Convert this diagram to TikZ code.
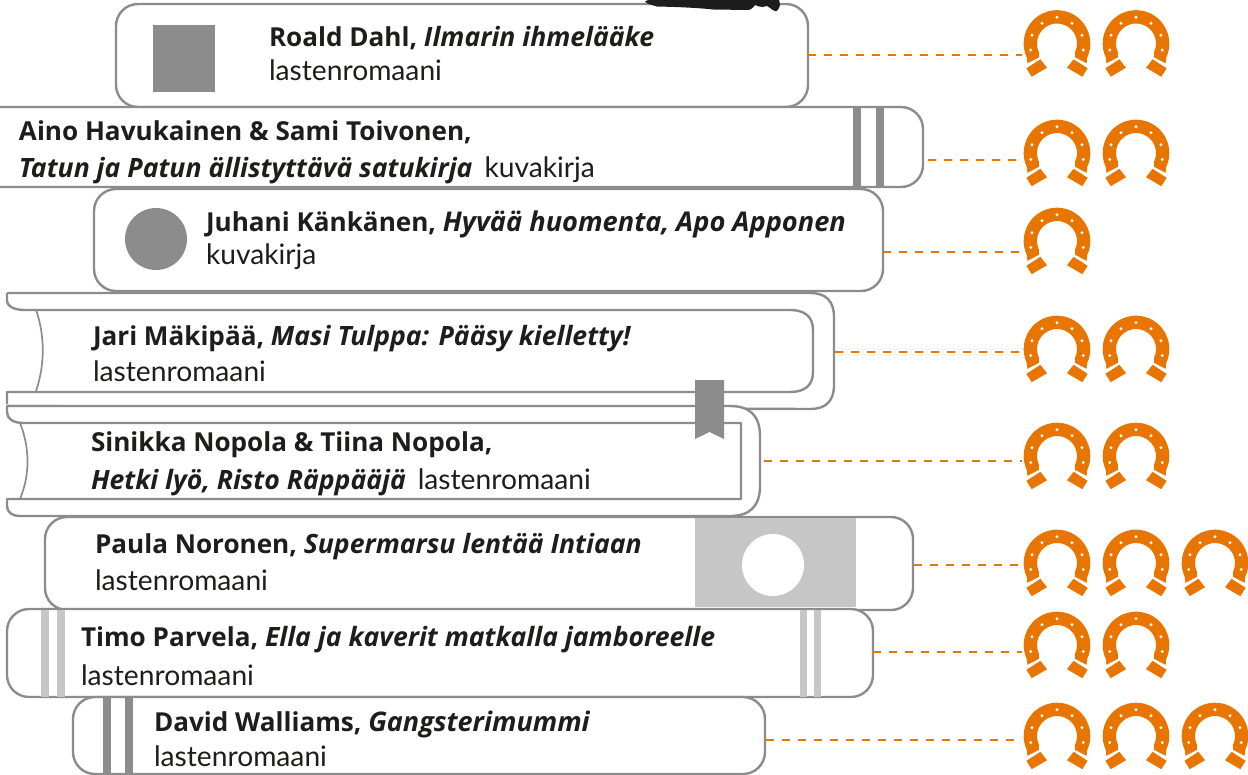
\documentclass[tikz,border=0pt]{standalone}
\usepackage{fontspec}
\setmainfont{Lato}
\newfontfamily\hvy{Open Sans}
\definecolor{bk}{HTML}{8C8C8C}
\definecolor{lbk}{HTML}{C6C6C6}
\definecolor{org}{HTML}{E87500}
\definecolor{ink}{HTML}{1D1D1B}
\newcommand{\fs}{\fontsize{28.2}{30}\selectfont}
\newcommand{\bt}[1]{{\hvy\fontsize{26.1}{30}\selectfont\bfseries #1}}
\newcommand{\bi}[2][26.6]{{\hvy\fontsize{#1}{30}\selectfont\bfseries\itshape #2}}
\tikzset{
  book/.style={draw=bk,line width=2.4pt,line join=round,rounded corners=22pt,fill=white},
  thin book/.style={draw=bk,line width=1.7pt,line join=round},
  lab/.style={anchor=base west,inner sep=0pt,outer sep=0pt,font=\fs,text=ink},
  dash link/.style={draw=org,line width=1.6pt,dash pattern=on 8pt off 8pt},
  shoe/.pic={
    \begin{scope}[x=1pt,y=1pt]
      \fill[org] (-29.6pt,-19.8pt) -- (205:33.3pt) arc[start angle=205,end angle=-25,radius=33.3pt]
        -- (29.6pt,-19.8pt) -- (18pt,-13.8pt) -- (-25:20pt)
        arc[start angle=-25,end angle=205,radius=20pt] -- (-18pt,-13.8pt) -- cycle;
      \fill[org] (-30.6pt,-24.8pt) -- (-16.6pt,-15.8pt) -- (-10pt,-24.2pt) -- (-25.3pt,-33.2pt) -- cycle;
      \fill[org] (30.6pt,-24.8pt) -- (16.6pt,-15.8pt) -- (10pt,-24.2pt) -- (25.3pt,-33.2pt) -- cycle;
      \foreach \px/\py in {-26.3/-6.5,-25/8.2,-15/20.2,0/26.2,15/20.2,25/8.2,26.3/-6.5}
        \fill[white] (\px pt,\py pt) circle[radius=1.6pt];
    \end{scope}
  }
}
\begin{document}
\begin{tikzpicture}[x=1pt,y=-1pt]
\useasboundingbox (0,0) rectangle (1248,774);
\clip (0,0) rectangle (1248,774);
% book 1
\draw[book] (116,4) rectangle (808,107);
\fill[bk] (153,25) rectangle (215,92);
\fill[ink] (645,1.5) -- (650,-1) -- (779,-1) -- (780,5) .. controls (779,9) and (777,12) .. (775,11) .. controls (772,10) and (769,7) .. (767,6) .. controls (764,7) and (762,7) .. (760,6.7) -- (755,5) .. controls (753,8) and (750,10) .. (748,10) -- (713,9.5) .. controls (700,8) and (680,7) .. (657,6.5) .. controls (652,5) and (647,4) .. (645,1.5) -- cycle;
% book 2
\draw[book] (-30,107) -- (923,107) -- (923,187) -- (-30,187);
\fill[bk] (853,107) rectangle (861,187);
\fill[bk] (876,107) rectangle (884,187);
% book 3
\draw[book] (94,189) rectangle (883,291);
\fill[bk] (156,239) circle[radius=31];
% book 4
\draw[book,rounded corners=0pt] (7,293) -- (810,293) .. controls (826,293) and (834,301) .. (834,317)
   -- (834,385) .. controls (834,401) and (826,409) .. (810,409) -- (7,406);
\draw[book,fill=none,rounded corners=0pt] (7,293) -- (7,300) .. controls (7,307) and (15,310) .. (25,310)
   -- (790,310) .. controls (804,310) and (813,316) .. (813,330) -- (813,372) .. controls (813,386) and (804,392) .. (790,392) -- (7,392) -- (7,404);
\draw[thin book] (36,310) .. controls (45,335) and (45,365) .. (36,391);
% book 5
\draw[book,rounded corners=0pt] (7,406) -- (730,406) .. controls (750,406) and (760,416) .. (760,436)
   -- (760,486) .. controls (760,506) and (750,516) .. (730,516) -- (20,516) .. controls (12,516) and (7,512) .. (7,506) -- (7,499) -- (741,499) -- (741,423) -- (24,423)
   .. controls (13,423) and (7,419) .. (7,412) -- cycle;
\draw[thin book] (20,423) .. controls (30,448) and (30,475) .. (20,499);
\draw[bk,line width=2.4pt] (7,499) -- (741,499);
\fill[bk] (695,380) -- (724,380) -- (724,439) -- (709.5,432) -- (695,439) -- cycle;
% book 6
\draw[book] (45,517) rectangle (913,610);
\fill[lbk] (695,518) rectangle (856,607);
\fill[white] (773,565) circle[radius=31];
% book 7
\draw[book] (7,609) rectangle (873,697);
\fill[lbk] (41,610) rectangle (49,697);
\fill[lbk] (57,610) rectangle (65,697);
\fill[lbk] (800,610) rectangle (807,697);
\fill[lbk] (814,610) rectangle (821,697);
% book 8
\draw[book] (73,697) rectangle (765,774);
\fill[bk] (103,698) rectangle (111,774);
\fill[bk] (125,698) rectangle (133,774);
% labels
\node[lab] (t1a) at (269,46) {\bt{Roald Dahl, }\bi{Ilmarin ihmelääke}};
\node[lab] (t1b) at (269,80) {lastenromaani};
\node[lab] (t2a) at (19,140) {\bt{Aino Havukainen \& Sami Toivonen,}};
\node[lab] (t2b) at (19,177) {\bi{Tatun ja Patun ällistyttävä satukirja}\ \,kuvakirja};
\node[lab] (t3a) at (206,231) {\bt{Juhani Känkänen, }\bi[27.2]{Hyvää huomenta, Apo Apponen}};
\node[lab] (t3b) at (206,264) {kuvakirja};
\node[lab] (t4a) at (93,345) {\bt{Jari Mäkipää, }\bi{Masi Tulppa: Pääsy kielletty!}};
\node[lab] (t4b) at (93,381) {lastenromaani};
\node[lab] (t5a) at (91,451) {\bt{Sinikka Nopola \& Tiina Nopola,}};
\node[lab] (t5b) at (91,489) {\bi{Hetki lyö, Risto Räppääjä}\ \,lastenromaani};
\node[lab] (t6a) at (95,553) {\bt{Paula Noronen, }\bi{Supermarsu lentää Intiaan}};
\node[lab] (t6b) at (95,590) {lastenromaani};
\node[lab] (t7a) at (81,646) {\bt{Timo Parvela, }\bi{Ella ja kaverit matkalla jamboreelle}};
\node[lab] (t7b) at (81,685) {lastenromaani};
\node[lab] (t8a) at (154,731) {\bt{David Walliams, }\bi[27]{Gangsterimummi}};
\node[lab] (t8b) at (154,766) {lastenromaani};
% connectors
\foreach \i/\xa/\ya in {1/808/55,2/928/160,3/883/252,4/835/352,5/764/461,6/914/565,7/873/652,8/766/740}{
  \coordinate (s\i) at (\xa,\ya);
  \coordinate (e\i) at (1022,\ya);
  \draw[dash link] (s\i) -- (e\i);
}
% horseshoes
\foreach \cx/\cy in {1057/43.5,1136/43.5,1057/153,1136/153,1057/241,1057/349,1136/349,1057/456,1136/456,1057/563,1136/563,1215/563,1057/645,1136/645,1057/736,1136/736,1215/736}
  \pic at (\cx,\cy) {shoe};
\end{tikzpicture}
\end{document}
